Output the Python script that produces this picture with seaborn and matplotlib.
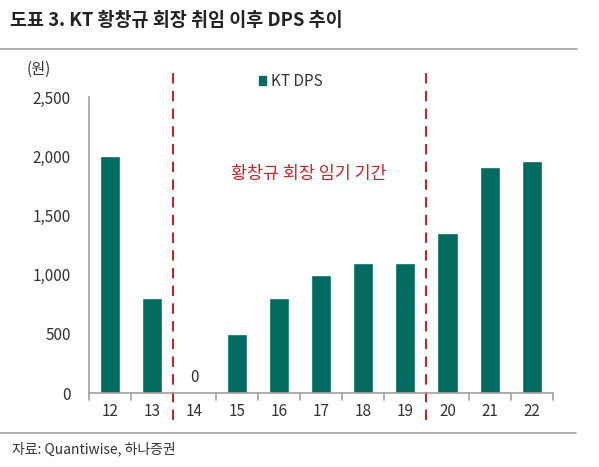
import matplotlib
matplotlib.use("Agg")
import matplotlib.pyplot as plt
import seaborn as sns
import pandas as pd
from matplotlib.lines import Line2D
from matplotlib.patches import Rectangle

years = ["12", "13", "14", "15", "16", "17", "18", "19", "20", "21", "22"]
dps = [2000, 800, 0, 500, 800, 1000, 1100, 1100, 1350, 1910, 1960]
yticks = [0, 500, 1000, 1500, 2000, 2500]
ytick_labels = ["0", "500", "1,000", "1,500", "2,000", "2,500"]

sns.set_theme(style="white")
plt.rcParams['font.family'] = ['Noto Sans CJK KR', 'DejaVu Sans']

BAR = "#006B5E"
RED = "#C8242B"
GRAY = "#A0A0A0"
TXT = "#333333"

df = pd.DataFrame({"year": years, "dps": dps})

fig = plt.figure(figsize=(5.99, 4.67), dpi=100)
ax = fig.add_axes([89/599, 1-393/467, (553-89)/599, (393-97)/467])
sns.barplot(data=df, x="year", y="dps", color=BAR, width=0.48, ax=ax, saturation=1)

ax.set_xlim(-0.5, len(years)-0.5)
ax.set_ylim(0, 2500)
ax.set_yticks(yticks)
ax.set_yticklabels(ytick_labels)
ax.set_xlabel("")
ax.set_ylabel("")
for s in ["top", "right"]:
    ax.spines[s].set_visible(False)
for s in ["left", "bottom"]:
    ax.spines[s].set_color(GRAY)
    ax.spines[s].set_linewidth(1.2)

ax.set_xticks(range(len(years)))
ax.set_xticklabels(years)
ax.tick_params(axis="x", length=0, labelsize=11, labelcolor=TXT, pad=7)
ax.tick_params(axis="y", length=5, width=1.2, color=GRAY, direction="out", labelsize=11, labelcolor=TXT, pad=8)
for b in [i + 0.5 for i in range(-1, len(years))]:
    ax.plot([b, b], [0, -0.022], transform=ax.get_xaxis_transform(), color=GRAY, lw=1.2, clip_on=False)

# dashed vertical lines
for xb in [1.5, 7.5]:
    ax.plot([xb, xb], [-0.091, 1.081], transform=ax.get_xaxis_transform(), color=RED,
            lw=1.5, ls=(0, (5, 3.5)), clip_on=False)

ax.text(2, 60, "0", ha="center", va="bottom", fontsize=11, color=TXT)

ax.text(4.7, 1850, "황창규 회장 임기 기간", ha="center", va="center", fontsize=12.5, color=RED)

# legend
fig.patches.append(Rectangle((259/599, 1-85/467), 7/599, 9/467, transform=fig.transFigure,
                             color=BAR, figure=fig))
fig.text(271/599, 1-81/467, "KT DPS", ha="left", va="center", fontsize=11, color=TXT)

fig.text(27/599, 1-69/467, "(원)", ha="left", va="center", fontsize=11, color=TXT)

fig.text(10/599, 1-20/467, "도표 3. KT 황창규 회장 취임 이후 DPS 추이", ha="left", va="center",
         fontsize=13.3, fontweight="bold", color="#222222")
fig.add_artist(Line2D([0, 577/599], [1-49/467, 1-49/467], transform=fig.transFigure, color=GRAY, lw=1.2))

fig.add_artist(Line2D([0, 576/599], [1-433/467, 1-433/467], transform=fig.transFigure, color=GRAY, lw=1.2))
fig.text(12/599, 1-449/467, "자료: Quantiwise, 하나증권", ha="left", va="center", fontsize=10, color=TXT)

fig.savefig("out.png", dpi=100)
